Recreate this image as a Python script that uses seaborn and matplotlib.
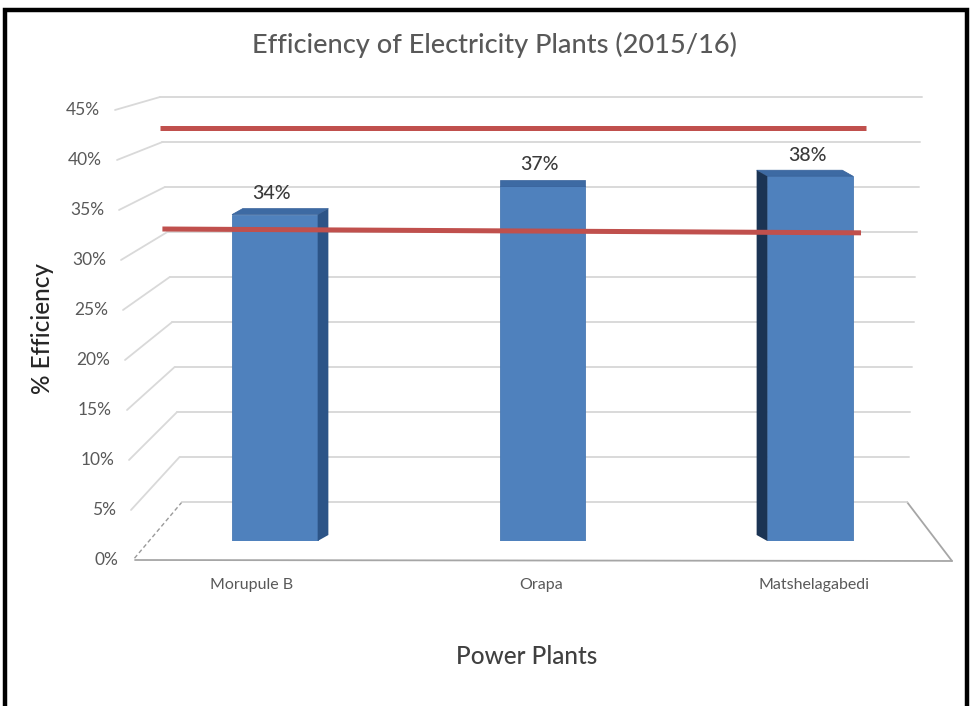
import matplotlib
matplotlib.use("Agg")
import matplotlib.pyplot as plt
import seaborn as sns
import pandas as pd
from matplotlib.patches import Polygon, Rectangle
from matplotlib.lines import Line2D
from matplotlib.transforms import IdentityTransform

# ---- data -------------------------------------------------------------
plants = ["Morupule B", "Orapa", "Matshelagabedi"]
efficiency = [34, 37, 38]
y_ticks = [0, 5, 10, 15, 20, 25, 30, 35, 40, 45]
tick_labels = [f"{t}%" for t in y_ticks]
upper_ref = [43.0, 43.0]      # red reference line (left end, right end)
lower_ref = [32.5, 32.1]
upper_span = [-0.43, 2.21]    # category-axis extent of each red line
lower_span = [-0.42, 2.19]

# ---- style ------------------------------------------------------------
sns.set_theme(style="white")
plt.rcParams["font.family"] = ["Lato", "DejaVu Sans"]

W, H = 972, 706
fig = plt.figure(figsize=(W / 100, H / 100), dpi=100)
fig.patch.set_facecolor("white")

# axes = front plane of the columns
ax = fig.add_axes([141 / W, (H - 541) / H, (944 - 141) / W, 9.6 * 45 / H])
df = pd.DataFrame({"plant": plants, "eff": efficiency})
sns.barplot(data=df, x="plant", y="eff", ax=ax, color="#4f81bd",
            saturation=1, width=0.32, zorder=2, edgecolor="#4a7ab4", linewidth=0.6)
ax.set_xlim(-0.5, 2.5)
ax.set_ylim(0, 45)
ax.axis("off")

ID = IdentityTransform()
fig.canvas.draw()
x0_px, y0_px = ax.transData.transform((-0.5, 0))
x1_px, _ = ax.transData.transform((2.5, 0))
cx_px = ax.transData.transform((1, 0))[0]


def img(yimg):
    return H - yimg


def back_pt(x, v):
    """Project a (category, value) point onto the back wall."""
    px, py = ax.transData.transform((x, v))
    left = 182 - 22 * v / 45
    right = 907 + 15 * v / 45
    bx = left + (px - x0_px) / (x1_px - x0_px) * (right - left)
    by = y0_px + 39 + (py - y0_px) * 0.9375
    return bx, by


def front_y(v):
    py = ax.transData.transform((0, v))[1]
    return y0_px - 19 + (py - y0_px) * 1.0417


def front_x(v, base):
    return base - 18 * v / 45


grid_c = "#d9d9d9"

# floor
bl = back_pt(-0.5, 0)
br = back_pt(2.5, 0)
fl = (135, img(560))
fr = (952, img(561))
ax.add_patch(Polygon([bl, br, fr, fl], closed=True, transform=ID,
                     facecolor="white", edgecolor="none", zorder=0.2, clip_on=False))
ax.add_line(Line2D([fl[0], fr[0]], [fl[1], fr[1]], color="#a6a6a6", lw=1.3,
                   transform=ID, zorder=0.4, clip_on=False))
ax.add_line(Line2D([br[0], fr[0]], [br[1], fr[1]], color="#a6a6a6", lw=1.3,
                   transform=ID, zorder=0.4, clip_on=False))
ax.add_line(Line2D([bl[0], fl[0] - 2], [bl[1], fl[1]], color="#9a9a9a", lw=1.0,
                   ls=(0, (3, 2)), transform=ID, zorder=0.4, clip_on=False))

# back-wall gridlines and side connectors, tick labels
for v, lab in zip(y_ticks, tick_labels):
    a = back_pt(-0.5, v)
    b = back_pt(2.5, v)
    ax.add_line(Line2D([a[0], b[0]], [a[1], b[1]], color=grid_c, lw=1.4,
                       transform=ID, zorder=0.5, clip_on=False))
    fy = front_y(v)
    if v > 0:
        ax.add_line(Line2D([front_x(v, 133), a[0]], [fy, a[1]], color=grid_c, lw=1.3,
                           transform=ID, zorder=0.5, clip_on=False))
    fig.text(front_x(v, 118) / W, fy / H, lab, ha="right", va="center",
             fontsize=12.5, color="#595959")

# 3-D faces of the columns
for patch in ax.patches:
    if not isinstance(patch, Rectangle):
        continue
    x, w, h = patch.get_x(), patch.get_width(), patch.get_height()
    (lx, by_), (rx, ty) = ax.transData.transform([(x, 0), (x + w, h)])
    dx = (cx_px - (lx + rx) / 2) * 0.04
    dy = 6
    ax.add_patch(Polygon([(lx, ty), (rx, ty), (rx + dx, ty + dy), (lx + dx, ty + dy)],
                         transform=ID, facecolor="#3d6aa3", edgecolor="#35609a",
                         lw=0.5, zorder=2.1, clip_on=False))
    if dx > 1:
        ax.add_patch(Polygon([(rx, by_), (rx, ty), (rx + dx, ty + dy), (rx + dx, by_ + dy)],
                             transform=ID, facecolor="#2c5487", edgecolor="none",
                             zorder=2.1, clip_on=False))
    elif dx < -1:
        ax.add_patch(Polygon([(lx, by_), (lx, ty), (lx + dx, ty + dy), (lx + dx, by_ + dy)],
                             transform=ID, facecolor="#1b3454", edgecolor="none",
                             zorder=2.1, clip_on=False))

# value labels
for i, v in enumerate(efficiency):
    ax.annotate(f"{v}%", (i, v), xytext=(-3, 21), textcoords="offset pixels",
                ha="center", va="center", fontsize=14, color="#3a3a3a",
                fontweight="medium", annotation_clip=False, zorder=5)

# red reference lines
ax.plot(upper_span, upper_ref, color="#c0504d", lw=3.6, solid_capstyle="butt",
        zorder=4, clip_on=False)
ax.plot(lower_span, lower_ref, color="#c0504d", lw=3.6, solid_capstyle="butt",
        zorder=4, clip_on=False)

# category labels
cat_x = [252, 541, 814]
for cx, name in zip(cat_x, plants):
    fig.text(cx / W, img(585) / H, name, ha="center", va="center",
             fontsize=11.5, color="#595959")

# titles
fig.text(494 / W, img(45) / H, "Efficiency of Electricity Plants (2015/16)",
         ha="center", va="center", fontsize=19.5, color="#595959",
         fontweight="medium")
fig.text(43 / W, img(329) / H, "% Efficiency", rotation=90, ha="center",
         va="center", fontsize=17.5, color="#262626", fontweight="medium")
fig.text(527 / W, img(657) / H, "Power Plants", ha="center", va="center",
         fontsize=17.5, color="#404040", fontweight="medium")

# outer frame
fig.add_artist(Rectangle((5 / W, -0.05), (967 - 5) / W, (img(10) / H) + 0.05,
                         transform=fig.transFigure, fill=False,
                         edgecolor="black", lw=3.2))

fig.savefig("out.png", dpi=100)
